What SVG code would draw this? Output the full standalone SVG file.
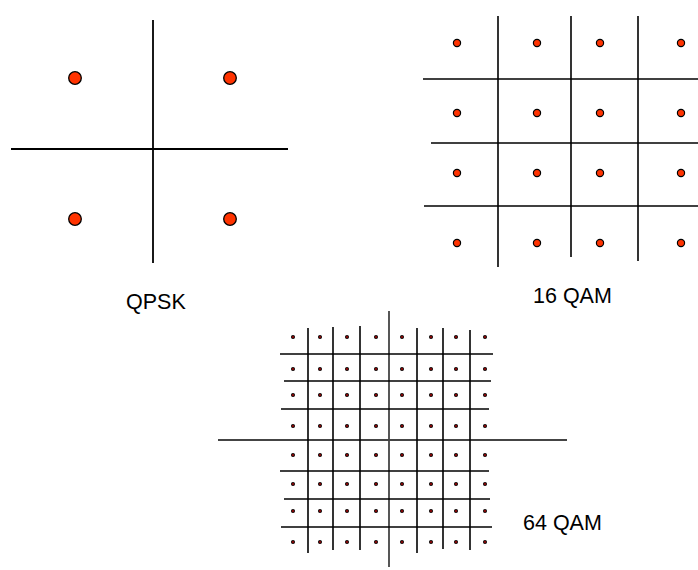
<svg xmlns="http://www.w3.org/2000/svg" width="698" height="570" viewBox="0 0 698 570">
  <style>
    .axis { stroke: #000; stroke-width: 1.8; fill: none; }
    .grid { stroke: #000; stroke-width: 1.6; fill: none; }
    .axis64 { stroke: #444; stroke-width: 1.8; fill: none; }
    .big { fill: #ff3300; stroke: #000; stroke-width: 1.3; }
    .mid { fill: #ff3300; stroke: #000; stroke-width: 1.2; }
    .small { fill: #a00; stroke: #111; stroke-width: 1.1; }
    .label { font-family: "Liberation Sans", Arial, sans-serif; font-size: 21.5px; fill: #000; }
  </style>

  <!-- QPSK constellation -->
  <g id="qpsk">
    <line class="axis" x1="11" y1="149" x2="288" y2="149"/>
    <line class="axis" x1="153" y1="20" x2="153" y2="263"/>
    <circle class="big" cx="75" cy="78" r="6.3"/>
    <circle class="big" cx="230" cy="78" r="6.3"/>
    <circle class="big" cx="75" cy="219" r="6.3"/>
    <circle class="big" cx="230" cy="219" r="6.3"/>
    <text class="label" x="126" y="309">QPSK</text>
  </g>

  <!-- 16 QAM constellation -->
  <g id="qam16">
    <line class="grid" x1="498" y1="16" x2="498" y2="267"/>
    <line class="grid" x1="571" y1="16" x2="571" y2="257"/>
    <line class="grid" x1="638" y1="16" x2="638" y2="261"/>
    <line class="grid" x1="423" y1="79" x2="698" y2="79"/>
    <line class="grid" x1="431" y1="143" x2="698" y2="143"/>
    <line class="grid" x1="424" y1="206" x2="698" y2="206"/>
    <g>
      <circle class="mid" cx="457" cy="43" r="3.6"/>
      <circle class="mid" cx="537" cy="43" r="3.6"/>
      <circle class="mid" cx="600" cy="43" r="3.6"/>
      <circle class="mid" cx="681" cy="43" r="3.6"/>
      <circle class="mid" cx="457" cy="113" r="3.6"/>
      <circle class="mid" cx="537" cy="113" r="3.6"/>
      <circle class="mid" cx="600" cy="113" r="3.6"/>
      <circle class="mid" cx="681" cy="113" r="3.6"/>
      <circle class="mid" cx="457" cy="173" r="3.6"/>
      <circle class="mid" cx="537" cy="173" r="3.6"/>
      <circle class="mid" cx="600" cy="173" r="3.6"/>
      <circle class="mid" cx="681" cy="173" r="3.6"/>
      <circle class="mid" cx="457" cy="243" r="3.6"/>
      <circle class="mid" cx="537" cy="243" r="3.6"/>
      <circle class="mid" cx="600" cy="243" r="3.6"/>
      <circle class="mid" cx="681" cy="243" r="3.6"/>
    </g>
    <text class="label" x="533" y="303">16 QAM</text>
  </g>

  <!-- 64 QAM constellation -->
  <g id="qam64">
    <line class="axis64" x1="218" y1="440" x2="567" y2="440"/>
    <line class="axis64" x1="389" y1="311" x2="389" y2="567"/>
    <line class="grid" x1="308" y1="328" x2="308" y2="553"/>
    <line class="grid" x1="333" y1="327" x2="333" y2="550"/>
    <line class="grid" x1="360" y1="326" x2="360" y2="550"/>
    <line class="grid" x1="417" y1="328" x2="417" y2="553"/>
    <line class="grid" x1="443" y1="328" x2="443" y2="549"/>
    <line class="grid" x1="470" y1="330" x2="470" y2="550"/>
    <line class="grid" x1="280" y1="354" x2="493" y2="354"/>
    <line class="grid" x1="284" y1="381" x2="491" y2="381"/>
    <line class="grid" x1="281" y1="409" x2="489" y2="409"/>
    <line class="grid" x1="280" y1="471" x2="489" y2="471"/>
    <line class="grid" x1="284" y1="499" x2="490" y2="499"/>
    <line class="grid" x1="281" y1="527" x2="492" y2="527"/>
    <g>
      <circle class="small" cx="293" cy="337" r="1.5"/><circle class="small" cx="320" cy="337" r="1.5"/><circle class="small" cx="347" cy="337" r="1.5"/><circle class="small" cx="376" cy="337" r="1.5"/><circle class="small" cx="402" cy="337" r="1.5"/><circle class="small" cx="431" cy="337" r="1.5"/><circle class="small" cx="456" cy="337" r="1.5"/><circle class="small" cx="485" cy="337" r="1.5"/>
      <circle class="small" cx="293" cy="369" r="1.5"/><circle class="small" cx="320" cy="369" r="1.5"/><circle class="small" cx="347" cy="369" r="1.5"/><circle class="small" cx="376" cy="369" r="1.5"/><circle class="small" cx="402" cy="369" r="1.5"/><circle class="small" cx="431" cy="369" r="1.5"/><circle class="small" cx="456" cy="369" r="1.5"/><circle class="small" cx="485" cy="369" r="1.5"/>
      <circle class="small" cx="293" cy="395" r="1.5"/><circle class="small" cx="320" cy="395" r="1.5"/><circle class="small" cx="347" cy="395" r="1.5"/><circle class="small" cx="376" cy="395" r="1.5"/><circle class="small" cx="402" cy="395" r="1.5"/><circle class="small" cx="431" cy="395" r="1.5"/><circle class="small" cx="456" cy="395" r="1.5"/><circle class="small" cx="485" cy="395" r="1.5"/>
      <circle class="small" cx="293" cy="426" r="1.5"/><circle class="small" cx="320" cy="426" r="1.5"/><circle class="small" cx="347" cy="426" r="1.5"/><circle class="small" cx="376" cy="426" r="1.5"/><circle class="small" cx="402" cy="426" r="1.5"/><circle class="small" cx="431" cy="426" r="1.5"/><circle class="small" cx="456" cy="426" r="1.5"/><circle class="small" cx="485" cy="426" r="1.5"/>
      <circle class="small" cx="293" cy="455" r="1.5"/><circle class="small" cx="320" cy="455" r="1.5"/><circle class="small" cx="347" cy="455" r="1.5"/><circle class="small" cx="376" cy="455" r="1.5"/><circle class="small" cx="402" cy="455" r="1.5"/><circle class="small" cx="431" cy="455" r="1.5"/><circle class="small" cx="456" cy="455" r="1.5"/><circle class="small" cx="485" cy="455" r="1.5"/>
      <circle class="small" cx="293" cy="484" r="1.5"/><circle class="small" cx="320" cy="484" r="1.5"/><circle class="small" cx="347" cy="484" r="1.5"/><circle class="small" cx="376" cy="484" r="1.5"/><circle class="small" cx="402" cy="484" r="1.5"/><circle class="small" cx="431" cy="484" r="1.5"/><circle class="small" cx="456" cy="484" r="1.5"/><circle class="small" cx="485" cy="484" r="1.5"/>
      <circle class="small" cx="293" cy="511" r="1.5"/><circle class="small" cx="320" cy="511" r="1.5"/><circle class="small" cx="347" cy="511" r="1.5"/><circle class="small" cx="376" cy="511" r="1.5"/><circle class="small" cx="402" cy="511" r="1.5"/><circle class="small" cx="431" cy="511" r="1.5"/><circle class="small" cx="456" cy="511" r="1.5"/><circle class="small" cx="485" cy="511" r="1.5"/>
      <circle class="small" cx="293" cy="542" r="1.5"/><circle class="small" cx="320" cy="542" r="1.5"/><circle class="small" cx="347" cy="542" r="1.5"/><circle class="small" cx="376" cy="542" r="1.5"/><circle class="small" cx="402" cy="542" r="1.5"/><circle class="small" cx="431" cy="542" r="1.5"/><circle class="small" cx="456" cy="542" r="1.5"/><circle class="small" cx="485" cy="542" r="1.5"/>
    </g>
    <text class="label" x="523" y="530">64 QAM</text>
  </g>
</svg>
